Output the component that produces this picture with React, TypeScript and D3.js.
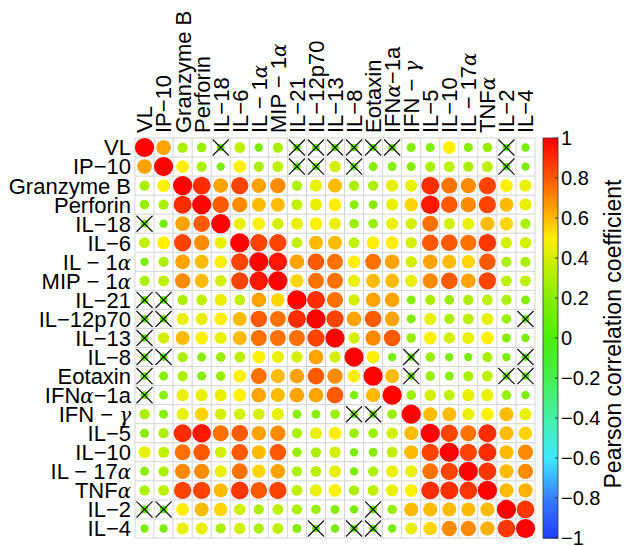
import React from "react";
import * as d3 from "d3";

// variable names, same order on both axes
const labels = [
  "VL", "IP−10", "Granzyme B", "Perforin", "IL−18", "IL−6", "IL − 1α", "MIP − 1α",
  "IL−21", "IL−12p70", "IL−13", "IL−8", "Eotaxin", "IFNα−1a", "IFN − γ", "IL−5",
  "IL−10", "IL − 17α", "TNFα", "IL−2", "IL−4",
];

// Pearson r; null = not significant (drawn with a cross)
const corr: (number | null)[][] = [
  [1, .65, .3, .25, null, .35, .15, .3, null, null, null, null, null, null, .2, .2, .5, .2, .25, null, .15],
  [.65, 1, .5, .3, .15, .5, .3, .35, null, null, .4, null, .2, .2, .2, .3, .35, .3, .35, null, .15],
  [.3, .5, 1, .9, .65, .85, .65, .7, .3, .45, .6, .3, .3, .45, .45, .9, .75, .7, .85, .5, .45],
  [.25, .3, .9, 1, .8, .7, .6, .6, .35, .45, .5, .2, .2, .45, .55, .95, .8, .7, .85, .6, .45],
  [null, .15, .65, .8, 1, .45, .5, .4, .45, .5, .45, .25, .25, .45, .4, .75, .4, .45, .6, .55, .3],
  [.35, .5, .85, .7, .45, 1, .85, .85, .35, .6, .6, .35, .5, .5, .4, .8, .8, .75, .88, .4, .4],
  [.15, .3, .65, .6, .5, .85, 1, .95, .65, .8, .75, .5, .75, .65, .4, .65, .6, .55, .8, .3, .3],
  [.3, .35, .7, .6, .4, .85, .95, 1, .55, .75, .75, .45, .6, .6, .45, .7, .8, .65, .85, .35, .35],
  [null, null, .3, .35, .45, .35, .65, .55, 1, .9, .75, .4, .65, .65, .2, .3, .25, .3, .35, .3, .2],
  [null, null, .45, .45, .5, .6, .8, .75, .9, 1, .85, .65, .8, .65, .2, .45, .3, .35, .45, .25, null],
  [null, .4, .6, .5, .45, .6, .75, .75, .75, .85, 1, .4, .7, .8, .25, .5, .4, .45, .5, .2, .15],
  [null, null, .3, .2, .25, .35, .5, .45, .4, .65, .4, 1, .5, .15, null, .25, .15, .15, .3, .15, null],
  [null, .2, .3, .2, .25, .5, .75, .6, .65, .8, .7, .5, 1, .6, null, .25, .2, .3, .35, null, null],
  [null, .2, .45, .45, .45, .5, .65, .6, .65, .65, .8, .15, .6, 1, .25, .4, .35, .45, .45, .25, .15],
  [.3, .2, .45, .55, .4, .4, .4, .45, .2, .2, .25, null, null, .25, 1, .6, .6, .45, .5, .6, .45],
  [.2, .3, .9, .95, .75, .8, .65, .7, .3, .45, .5, .25, .25, .4, .6, 1, .85, .75, .9, .6, .55],
  [.45, .35, .75, .8, .4, .8, .6, .8, .25, .3, .4, .15, .2, .35, .6, .85, 1, .85, .9, .6, .7],
  [.2, .3, .7, .7, .45, .75, .55, .65, .3, .35, .45, .15, .3, .45, .45, .75, .85, 1, .88, .6, .7],
  [.3, .35, .85, .85, .6, .88, .8, .85, .35, .45, .5, .3, .35, .45, .5, .9, .9, .88, 1, .6, .62],
  [null, null, .5, .6, .55, .4, .3, .35, .3, .25, .2, .15, null, .25, .6, .6, .6, .6, .6, 1, .88],
  [.15, .15, .45, .45, .3, .4, .3, .35, .2, null, .15, null, null, .15, .45, .55, .7, .7, .62, .88, 1],
];

const colorTicks = [1, 0.8, 0.6, 0.4, 0.2, 0, -0.2, -0.4, -0.6, -0.8, -1];

// colour ramp of the bar
const rampStops = [-1, -0.8, -0.6, -0.4, -0.2, 0, 0.2, 0.4, 0.5, 0.6, 0.8, 1];
const rampColors = [
  "#1f3dff", "#3a7cff", "#3ee8ff", "#45f0a8", "#46ee50", "#4aee10",
  "#86ee00", "#d2f000", "#fff000", "#ffbb00", "#ff5a00", "#ff0000",
];

const font = "'Liberation Sans', Arial, Helvetica, sans-serif";

// greek letters set like TeX symbols
const greek = (s: string) =>
  s.split(/([αγ])/).map((p, i) =>
    p === "α" || p === "γ" ? (
      <tspan key={i} fontFamily="'DejaVu Serif', serif" fontStyle="italic" fontSize="0.9em">
        {p}
      </tspan>
    ) : (
      <tspan key={i}>{p}</tspan>
    )
  );

const App: React.FC = () => {
  const width = 626;
  const height = 546;
  const idx = d3.range(labels.length);

  const x = d3.scaleBand<number>().domain(idx).range([135, 535]);
  const y = d3.scaleBand<number>().domain(idx).range([138, 538]);
  const bw = x.bandwidth();

  const color = d3.scaleLinear<string>().domain(rampStops).range(rampColors).clamp(true);
  const radius = d3.scaleLinear().domain([0, 1]).range([3.2, 9.6]);

  // colour bar
  const barX = 543;
  const barW = 15;
  const cy = d3.scaleLinear().domain([-1, 1]).range([538, 138]);
  const barSteps = d3.range(0, 200).map(i => -1 + (i * 2) / 200);

  return (
    <svg
      width={width}
      height={height}
      style={{ position: "absolute", left: 0, top: 0, background: "#fff" }}
      fontFamily={font}
    >
      <rect width={width} height={height} fill="#fff" />

      {/* grid */}
      <g stroke="#d3d6d6" strokeWidth={1}>
        {d3.range(labels.length + 1).map(i => {
          const px = 135 + i * bw;
          const py = 138 + i * y.bandwidth();
          return (
            <g key={i}>
              <line x1={px} x2={px} y1={138} y2={538} />
              <line x1={135} x2={535} y1={py} y2={py} />
            </g>
          );
        })}
      </g>

      {/* cells */}
      {corr.map((row, r) =>
        row.map((v, c) => {
          const cx = (x(c) as number) + bw / 2;
          const cyy = (y(r) as number) + y.bandwidth() / 2;
          if (v === null) {
            const h = bw / 2 - 1.5;
            return (
              <g key={`${r}-${c}`}>
                <circle cx={cx} cy={cyy} r={radius(0.1)} fill={color(0.1)} />
                <path
                  d={`M${cx - h},${cyy - h}L${cx + h},${cyy + h}M${cx - h},${cyy + h}L${cx + h},${cyy - h}`}
                  stroke="#1a1a1a"
                  strokeWidth={1.3}
                />
              </g>
            );
          }
          return <circle key={`${r}-${c}`} cx={cx} cy={cyy} r={radius(Math.abs(v))} fill={color(v)} />;
        })
      )}

      {/* row labels */}
      <g fontSize={22} textAnchor="end" fill="#000">
        {labels.map((l, i) => (
          <text key={l} x={131} y={(y(i) as number) + y.bandwidth() / 2} dy="0.36em">
            {greek(l)}
          </text>
        ))}
      </g>

      {/* column labels */}
      <g fontSize={22} textAnchor="start" fill="#000">
        {labels.map((l, i) => {
          const cx = (x(i) as number) + bw / 2;
          return (
            <text key={l} transform={`translate(${cx},133) rotate(-90)`} dy="0.36em">
              {greek(l)}
            </text>
          );
        })}
      </g>

      {/* colour bar */}
      <g>
        {barSteps.map((s, i) => (
          <rect
            key={i}
            x={barX}
            y={cy(s + 2 / 200)}
            width={barW}
            height={cy(s) - cy(s + 2 / 200) + 0.6}
            fill={color(s + 1 / 200)}
          />
        ))}
        <rect x={barX} y={138} width={barW} height={400} fill="none" stroke="#333" strokeWidth={0.8} />
        {colorTicks.map(t => (
          <g key={t}>
            <line x1={barX + barW - 3} x2={barX + barW} y1={cy(t)} y2={cy(t)} stroke="#333" />
            <text x={barX + barW + 3} y={cy(t)} dy="0.36em" fontSize={20} fill="#000">
              {t < 0 ? `−${Math.abs(t)}` : `${t}`}
            </text>
          </g>
        ))}
        <text
          transform={`translate(621,334) rotate(-90)`}
          textAnchor="middle"
          fontSize={23}
          fill="#000"
        >
          Pearson correlation coefficient
        </text>
      </g>
    </svg>
  );
};

export default App;
